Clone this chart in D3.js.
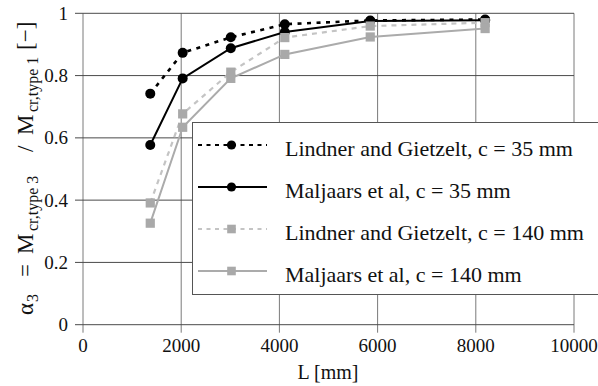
<!DOCTYPE html>
<html>
<head>
<meta charset="utf-8">
<script src="https://cdn.jsdelivr.net/npm/d3@7"></script>
<style>
  html, body { margin: 0; padding: 0; background: #fff; }
  svg { display: block; }
  text { font-family: "Liberation Serif", "Times New Roman", Times, serif; fill: #111; }
</style>
</head>
<body>
<svg id="chart" width="598" height="386"></svg>
<script>
// Beam length L [mm] at which alpha_3 was evaluated
const lengths = [1370, 2030, 3010, 4110, 5850, 8190];

// alpha_3 for each method and c value
const lindner35   = [0.742, 0.873, 0.923, 0.965, 0.977, 0.980];
const maljaars35  = [0.577, 0.791, 0.888, 0.940, 0.975, 0.978];
const lindner140  = [0.391, 0.677, 0.811, 0.922, 0.959, 0.970];
const maljaars140 = [0.326, 0.634, 0.791, 0.868, 0.924, 0.951];

const seriesNames = [
  "Lindner and Gietzelt, c = 35 mm",
  "Maljaars et al, c = 35 mm",
  "Lindner and Gietzelt, c = 140 mm",
  "Maljaars et al, c = 140 mm"
];

const xTicks = [0, 2000, 4000, 6000, 8000, 10000];
const yTicks = [0, 0.2, 0.4, 0.6, 0.8, 1];

const series = [
  { name: seriesNames[0], values: lindner35,   color: "#000",    width: 2.6, dash: "4,5.5", marker: "circle", mcolor: "#000" },
  { name: seriesNames[1], values: maljaars35,  color: "#000",    width: 2,   dash: null,    marker: "circle", mcolor: "#000" },
  { name: seriesNames[2], values: lindner140,  color: "#c4c4c4", width: 2.2, dash: "5,5",   marker: "square", mcolor: "#a9a9a9" },
  { name: seriesNames[3], values: maljaars140, color: "#ababab", width: 2,   dash: null,    marker: "square", mcolor: "#a9a9a9" }
];

const svg = d3.select("#chart");
const x = d3.scaleLinear().domain([0, 10000]).range([83, 574]);
const y = d3.scaleLinear().domain([0, 1]).range([324.7, 13.3]);

// grid lines, extended past the axes as tick marks
const grid = svg.append("g");
grid.selectAll("line.v").data(xTicks).join("line")
  .attr("x1", d => x(d)).attr("x2", d => x(d))
  .attr("y1", y(1)).attr("y2", y(0) + 8)
  .attr("stroke", "#7a7a7a").attr("stroke-width", 1);
grid.selectAll("line.h").data(yTicks).join("line")
  .attr("x1", x(0) - 8).attr("x2", x(10000))
  .attr("y1", d => y(d)).attr("y2", d => y(d))
  .attr("stroke", "#4a4a4a").attr("stroke-width", 1);

// tick labels
svg.append("g").selectAll("text").data(xTicks).join("text")
  .attr("x", d => x(d)).attr("y", 352)
  .attr("text-anchor", "middle").attr("font-size", 19)
  .text(d => d3.format("d")(d));
svg.append("g").selectAll("text").data(yTicks).join("text")
  .attr("x", 68).attr("y", d => y(d) + 6.5)
  .attr("text-anchor", "end").attr("font-size", 19)
  .text(d => d === 0 || d === 1 ? String(d) : d.toFixed(1));

// axis titles
svg.append("text").attr("x", 328).attr("y", 379)
  .attr("text-anchor", "middle").attr("font-size", 20).text("L [mm]");

// y title: equation-style pieces along the rotated baseline (offsets from its start)
const titleParts = [
  { t: "α", at: 0, sub: false },
  { t: "3", at: 13, sub: true },
  { t: "=", at: 38, sub: false },
  { t: "M", at: 61, sub: false },
  { t: "cr,type 3", at: 84, sub: true },
  { t: "/", at: 163, sub: false },
  { t: "M", at: 180, sub: false },
  { t: "cr,type 1", at: 203, sub: true },
  { t: "[−]", at: 265, sub: false }
];
const yt = svg.append("text")
  .attr("transform", "translate(33,315) rotate(-90)");
titleParts.forEach(p => {
  yt.append("tspan").attr("x", p.at).attr("y", p.sub ? 4.5 : 0)
    .attr("font-size", p.sub ? 16 : 23).text(p.t);
});

// series: line then markers, drawn in legend order
const line = d3.line().x((d, i) => x(lengths[i])).y(d => y(d));
function drawMarker(g, kind, cx, cy, size, color) {
  if (kind === "circle") {
    g.append("circle").attr("cx", cx).attr("cy", cy).attr("r", size).attr("fill", color);
  } else {
    g.append("rect").attr("x", cx - size).attr("y", cy - size)
      .attr("width", size * 2).attr("height", size * 2).attr("fill", color);
  }
}
series.forEach(s => {
  const g = svg.append("g");
  g.append("path").attr("d", line(s.values)).attr("fill", "none")
    .attr("stroke", s.color).attr("stroke-width", s.width)
    .attr("stroke-dasharray", s.dash);
  s.values.forEach((v, i) => drawMarker(g, s.marker, x(lengths[i]), y(v),
    s.marker === "circle" ? 5 : 4.6, s.mcolor));
});

// legend
const lg = svg.append("g");
lg.append("rect").attr("x", 192.5).attr("y", 122.5).attr("width", 420).attr("height", 172)
  .attr("fill", "#fff").attr("stroke", "#555").attr("stroke-width", 1);
const rowY = [145, 187, 229, 271];
series.forEach((s, i) => {
  lg.append("line").attr("x1", 198).attr("x2", 267)
    .attr("y1", rowY[i]).attr("y2", rowY[i])
    .attr("stroke", s.color).attr("stroke-width", 2)
    .attr("stroke-dasharray", s.dash ? "4,4.5" : null);
  drawMarker(lg, s.marker, 231.5, rowY[i], s.marker === "circle" ? 4.6 : 4.3, s.mcolor);
  lg.append("text").attr("x", 285).attr("y", rowY[i] + 10.5)
    .attr("font-size", 22).text(s.name);
});
</script>
</body>
</html>
